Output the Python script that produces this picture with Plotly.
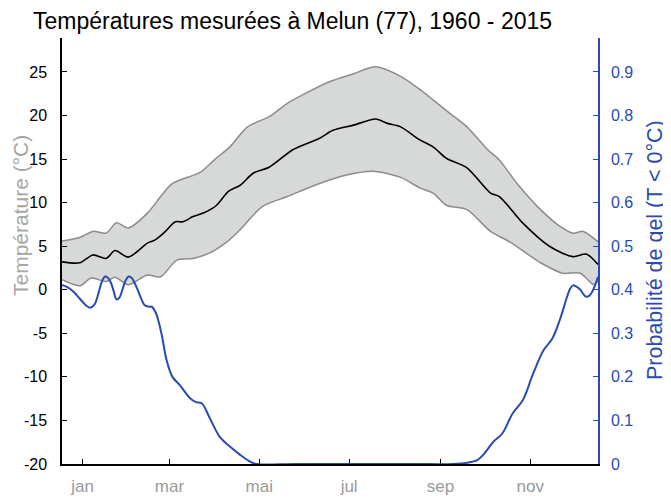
import plotly.graph_objects as go

# jour de l'année -> température moyenne (°C)
mean_days = [1, 13, 22, 31, 37, 46, 59, 64, 70, 78, 83, 90, 97, 106, 114, 122, 131, 142,
             158, 176, 185, 199, 214, 222, 231, 244, 253, 262, 276, 292, 298, 314, 332,
             348, 357, 365]
mean_temp = [3.2, 3.1, 4.0, 3.6, 4.5, 3.75, 5.35, 5.7, 6.5, 7.8, 7.8, 8.4, 8.8, 9.7, 11.3,
             12.0, 13.4, 14.1, 16.1, 17.4, 18.3, 18.9, 19.6, 19.1, 18.7, 17.2, 16.4, 15.1,
             14.0, 11.1, 10.7, 7.65, 5.0, 3.8, 4.1, 2.9]

# enveloppe haute
up_days = [1, 13, 22, 31, 38, 46, 59, 68, 76, 95, 105, 115, 127, 142, 154, 167, 183, 199,
           214, 231, 244, 253, 264, 276, 290, 298, 310, 326, 339, 348, 355, 365]
up_temp = [5.6, 6.0, 6.7, 6.5, 7.7, 7.1, 8.8, 10.7, 12.2, 13.5, 15.0, 16.4, 18.7, 19.9,
           21.4, 22.6, 23.9, 24.8, 25.6, 24.5, 23.0, 21.8, 20.3, 18.7, 16.1, 14.9, 12.2,
           9.2, 7.3, 6.5, 6.7, 5.5]

# enveloppe basse
low_days = [1, 13, 21, 31, 37, 46, 59, 68, 79, 90, 101, 113, 122, 137, 154, 176, 195, 212,
            231, 244, 253, 262, 276, 292, 305, 326, 341, 353, 362, 365]
low_temp = [1.15, 0.46, 1.34, 0.95, 1.45, 0.57, 1.7, 1.5, 3.4, 3.6, 4.2, 5.5, 6.9, 9.55,
            10.7, 12.2, 13.2, 13.6, 12.9, 11.7, 11.1, 9.7, 9.2, 6.7, 5.5, 3.1, 1.9, 1.9,
            0.6, 1.0]

# probabilité de gel
gel_days = [1, 4, 9, 13, 17, 20, 23, 26, 28, 30, 32, 34, 36, 38, 40, 42, 44, 46, 48, 50,
            52, 55, 57, 60, 62, 65, 67, 69, 72, 76, 81, 88, 92, 96, 101, 108, 115, 122,
            129, 133, 160, 200, 240, 266, 276, 283, 287, 294, 300, 307, 314, 321, 328,
            334, 339, 344, 346, 348, 350, 353, 355, 357, 359, 361, 363, 365]
gel_prob = [0.411, 0.407, 0.395, 0.38, 0.365, 0.359, 0.366, 0.395, 0.418, 0.43, 0.428,
            0.418, 0.398, 0.378, 0.382, 0.40, 0.42, 0.43, 0.428, 0.418, 0.403, 0.378,
            0.365, 0.361, 0.361, 0.345, 0.322, 0.292, 0.239, 0.20, 0.181, 0.151, 0.142,
            0.139, 0.108, 0.063, 0.04, 0.021, 0.005, 0.0, 0.0, 0.0, 0.0, 0.0, 0.003,
            0.009, 0.021, 0.051, 0.07, 0.116, 0.147, 0.208, 0.261, 0.288, 0.33, 0.384,
            0.402, 0.41, 0.408, 0.40, 0.39, 0.384, 0.386, 0.395, 0.41, 0.43]

month_days = [15, 74, 135, 196, 258, 319]
month_labels = ["jan", "mar", "mai", "jul", "sep", "nov"]

temp_ticks = [-20, -15, -10, -5, 0, 5, 10, 15, 20, 25]
temp_labels = ["-20", "-15", "-10", "-5", "0", "5", "10", "15", "20", "25"]
prob_ticks = [0, 0.1, 0.2, 0.3, 0.4, 0.5, 0.6, 0.7, 0.8, 0.9]
prob_labels = ["0", "0.1", "0.2", "0.3", "0.4", "0.5", "0.6", "0.7", "0.8", "0.9"]

BLUE = "#2a4bb0"
FONT = "Liberation Sans, Arial, sans-serif"

# la page html ajoute 8 px de marge au corps : on décale la figure en conséquence
L, T, PW, PH = 54, 30, 536, 426

fig = go.Figure()
fig.add_trace(go.Scatter(x=low_days, y=low_temp, mode="lines",
                         line=dict(color="#8c8c8c", width=1.5, shape="spline", smoothing=0.8),
                         hoverinfo="skip", showlegend=False))
fig.add_trace(go.Scatter(x=up_days, y=up_temp, mode="lines", fill="tonexty",
                         fillcolor="#d7d8d8",
                         line=dict(color="#8c8c8c", width=1.5, shape="spline", smoothing=0.8),
                         hoverinfo="skip", showlegend=False))
fig.add_trace(go.Scatter(x=mean_days, y=mean_temp, mode="lines",
                         line=dict(color="black", width=1.6, shape="spline", smoothing=0.8),
                         showlegend=False))
fig.add_trace(go.Scatter(x=gel_days, y=gel_prob, mode="lines", yaxis="y2",
                         line=dict(color=BLUE, width=2, shape="spline", smoothing=1),
                         showlegend=False))

fig.update_layout(
    width=671, height=498,
    margin=dict(l=L, r=671 - L - PW, t=T, b=498 - T - PH, autoexpand=False),
    plot_bgcolor="white", paper_bgcolor="white",
    font=dict(family=FONT, size=16, color="black"),
    xaxis=dict(range=[1, 365], tickvals=month_days, ticktext=month_labels,
               ticks="inside", ticklen=5, tickcolor="black", tickwidth=1.2,
               showline=True, linecolor="black", linewidth=1.5, showgrid=False,
               zeroline=False, layer="below traces", automargin=False,
               tickfont=dict(color="#9a9a9a", size=17), ticklabelstandoff=6),
    yaxis=dict(range=[-20, 28.9], tickvals=temp_ticks, ticktext=temp_labels,
               ticks="inside", ticklen=5, tickcolor="black", tickwidth=1.2,
               showline=True, linecolor="black", linewidth=1.5, showgrid=False,
               zeroline=False, automargin=False, tickfont=dict(color="black", size=16),
               ticklabelstandoff=10),
    yaxis2=dict(range=[0, 0.978], tickvals=prob_ticks, ticktext=prob_labels,
                overlaying="y", side="right",
                ticks="inside", ticklen=5, tickcolor=BLUE, tickwidth=1.2,
                showline=True, linecolor=BLUE, linewidth=1.5, showgrid=False,
                zeroline=False, automargin=False, tickfont=dict(color=BLUE, size=16),
                ticklabelstandoff=8),
    annotations=[
        dict(text="Températures mesurées à Melun (77), 1960 - 2015", xref="paper",
             yref="paper", x=(284 - L) / PW, y=1, yshift=T - 13, xanchor="center",
             yanchor="middle", showarrow=False, font=dict(size=23, color="black")),
        dict(text="Température (°C)", xref="paper", yref="paper",
             x=-L / PW, xshift=12, xanchor="center", y=(T + PH - 208) / PH,
             yanchor="middle", textangle=-90, showarrow=False,
             font=dict(size=21, color="#a6a6a6")),
        dict(text="Probabilité de gel (T < 0°C)", xref="paper", yref="paper",
             x=1, xshift=57, xanchor="center", y=(T + PH - 242) / PH,
             yanchor="middle", textangle=-90, showarrow=False,
             font=dict(size=21.5, color=BLUE)),
    ],
)

fig.write_html("out.html")
